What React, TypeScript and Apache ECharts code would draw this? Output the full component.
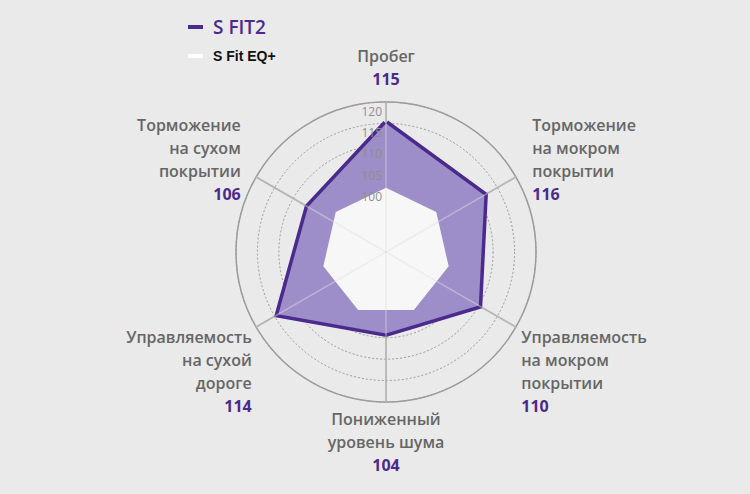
import React, { useEffect, useRef } from "react";
import * as echarts from "echarts";

// ---- data ----
const indicatorNames = [
  "Пробег",
  "Торможение\nна сухом\nпокрытии",
  "Управляемость\nна сухой\nдороге",
  "Пониженный\nуровень шума",
  "Управляемость\nна мокром\nпокрытии",
  "Торможение\nна мокром\nпокрытии",
];
const scoreLabels = [115, 106, 114, 104, 110, 116];
// polygon vertices as drawn in the picture
const sFit2Values = [115, 106, 114, 104, 110, 111.5];
const sFitEqValues = [100, 100, 100, 100, 100, 100, 100];
const seriesNames = ["S FIT2", "S Fit EQ+"];
const scaleMin = 85;
const scaleMax = 120;
const splitCount = 7;
const visibleTickFrom = 100;

const PURPLE = "#4a2a8c";
const FILL = "#9d8dc8";
const GRAY_TEXT = "#666666";
const FONT = "Open Sans";

// label placement tweaks per direction (index -> style)
const nameLayout: Record<number, { padL: number; padR: number; before: number; after: number }> = {
  0: { padL: 0, padR: 0, before: 0, after: 7 },
  1: { padL: 0, padR: 11, before: 0, after: 31 },
  2: { padL: 0, padR: 0, before: 83, after: 0 },
  3: { padL: 0, padR: 0, before: 0, after: 0 },
  4: { padL: 1, padR: 0, before: 83, after: 0 },
  5: { padL: 12, padR: 0, before: 0, after: 31 },
};

function buildRich() {
  const rich: Record<string, any> = {};
  Object.keys(nameLayout).forEach((k) => {
    const l = nameLayout[+k];
    rich["n" + k] = {
      color: GRAY_TEXT,
      fontFamily: FONT,
      fontSize: 16,
      fontWeight: 600,
      lineHeight: 23,
      padding: [0, l.padR, 0, l.padL],
    };
    rich["v" + k] = {
      color: PURPLE,
      fontFamily: FONT,
      fontSize: 16,
      fontWeight: 700,
      lineHeight: 23,
      padding: [0, l.padR, 0, l.padL],
    };
    rich["b" + k] = { fontSize: 1, lineHeight: Math.max(1, l.before) };
    rich["a" + k] = { fontSize: 1, lineHeight: Math.max(1, l.after) };
  });
  return rich;
}

export default function App() {
  const ref = useRef<HTMLDivElement>(null);
  useEffect(() => {
    if (!ref.current) return;
    const chart = echarts.init(ref.current, undefined, { renderer: "svg" });
    const center = [386, 252];
    const radius = 150;

    const mainIndicators = indicatorNames.map((n, i) => ({
      name: n,
      min: scaleMin,
      max: scaleMax,
      idx: i,
      score: scoreLabels[i],
    }));

    const option: any = {
      animation: false,
      backgroundColor: "#eaeaea",
      legend: {
        orient: "vertical",
        left: 183,
        top: 10,
        itemWidth: 15,
        itemHeight: 4,
        itemGap: 7,
        icon: "rect",
        itemStyle: { borderWidth: 0 },
        data: [
          {
            name: seriesNames[0],
            textStyle: {
              color: PURPLE,
              fontFamily: FONT,
              fontSize: 19,
              fontWeight: 600,
              lineHeight: 24,
              padding: [0, 0, 0, 5],
            },
          },
          {
            name: seriesNames[1],
            textStyle: {
              color: "#111111",
              fontFamily: "Liberation Sans",
              fontSize: 14,
              fontWeight: 700,
              lineHeight: 20,
              padding: [0, 0, 0, 5],
            },
          },
        ],
      },
      radar: [
        {
          center,
          radius,
          startAngle: 90,
          shape: "circle",
          splitNumber: splitCount,
          nameGap: 5,
          indicator: mainIndicators,
          axisName: {
            show: true,
            formatter: (name: string, ind: any) => {
              const k = ind.idx;
              const l = nameLayout[k];
              const lines = name.split("\n").map((s) => `{n${k}|${s}}`);
              lines.push(`{v${k}|${ind.score}}`);
              if (l.before > 0) lines.unshift(`{b${k}| }`);
              if (l.after > 0) lines.push(`{a${k}| }`);
              return lines.join("\n");
            },
            rich: buildRich(),
          },
          splitLine: {
            lineStyle: { color: "#9a9a9a", type: [2, 2], width: 1 },
          },
          splitArea: { show: false },
          axisLine: { lineStyle: { color: "#959595", width: 1.5 } },
          axisTick: { show: false },
          axisLabel: { show: false },
        },
        {
          center,
          radius,
          startAngle: 90,
          shape: "circle",
          splitNumber: 1,
          indicator: sFitEqValues.map(() => ({ name: "", min: scaleMin, max: scaleMax })),
          axisName: { show: false },
          splitLine: { lineStyle: { color: "#9c9c9c", width: 1.5 } },
          splitArea: { show: false },
          axisLine: { show: false },
          axisTick: { show: false },
          axisLabel: { show: false },
        },
        {
          center,
          radius,
          startAngle: 90,
          shape: "circle",
          splitNumber: splitCount,
          z: 5,
          indicator: indicatorNames.map((n, i) =>
            i === 0
              ? {
                  name: "",
                  min: scaleMin,
                  max: scaleMax,
                  axisLabel: {
                    show: true,
                    color: "#8e8e8e",
                    fontFamily: FONT,
                    fontSize: 12,
                    margin: 4,
                    verticalAlign: "top",
                    padding: [3, 0, 0, 0],
                    formatter: (v: number) => (v >= visibleTickFrom ? String(v) : ""),
                  },
                }
              : { name: "", min: scaleMin, max: scaleMax }
          ),
          axisName: { show: false },
          splitLine: { show: false },
          splitArea: { show: false },
          axisLine: { lineStyle: { color: "rgba(225,225,225,0.45)", width: 1.5 } },
          axisTick: { show: false },
          axisLabel: { show: false },
        },
      ],
      series: [
        {
          name: seriesNames[0],
          type: "radar",
          radarIndex: 0,
          z: 2,
          symbol: "none",
          itemStyle: { color: PURPLE },
          lineStyle: { color: PURPLE, width: 7, join: "miter" },
          areaStyle: { color: FILL, opacity: 1 },
          data: [{ value: sFit2Values, name: seriesNames[0] }],
        },
        {
          name: seriesNames[1],
          type: "radar",
          radarIndex: 1,
          z: 3,
          symbol: "none",
          itemStyle: { color: "#ffffff" },
          lineStyle: { color: "#f7f7f7", width: 0 },
          areaStyle: { color: "#f7f7f7", opacity: 1 },
          data: [{ value: sFitEqValues, name: seriesNames[1] }],
        },
      ],
    };
    chart.setOption(option);
    return () => chart.dispose();
  }, []);
  return (
    <div
      ref={ref}
      style={{ position: "fixed", left: 0, top: 0, width: 750, height: 494 }}
    />
  );
}
